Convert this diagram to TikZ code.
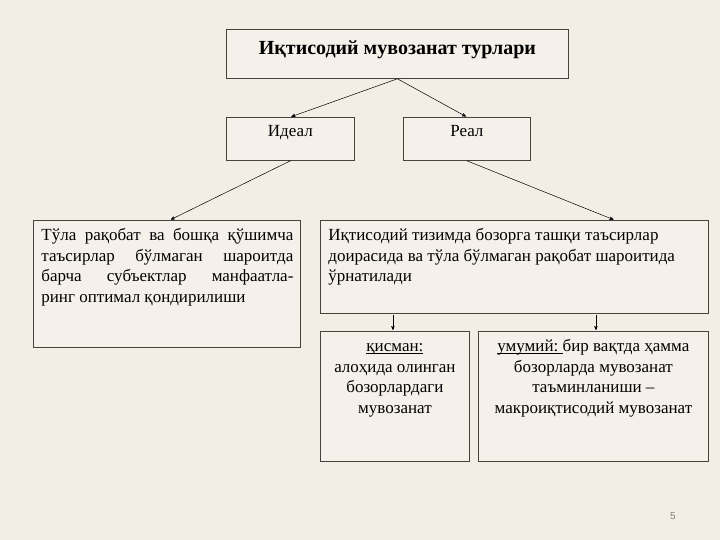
\documentclass[tikz,border=0pt]{standalone}
\usepackage{fontspec}
\setmainfont{Liberation Serif}
\setsansfont{Liberation Sans}
\usepackage{tikz}
\usetikzlibrary{arrows,positioning,calc}

\definecolor{bgcol}{RGB}{243,238,229}
\definecolor{boxfill}{RGB}{245,241,234}
\definecolor{boxline}{RGB}{70,66,62}

\newcommand\ulword[1]{\leavevmode\setbox0\hbox{#1}\rlap{\rule[-2.5pt]{\wd0}{0.7pt}}\box0}

\begin{document}
\begin{tikzpicture}[x=1pt, y=-1pt, >=stealth', thick, font=\fontsize{17}{20.7}\selectfont]
				\tikzstyle{box}=[draw=boxline, fill=boxfill, line width=0.8pt, inner sep=0pt, anchor=north west]
				\tikzstyle{link}=[draw=black, line width=0.5pt, ->, shorten >=1pt]

				\useasboundingbox (0,0) rectangle (720,540);
				\fill[bgcol] (0,0) rectangle (720,540);

				%SARLAVHA
				\node[box]	(title)	at (226,29)	{\parbox[c][49pt][t]{342pt}{\fontsize{20}{24}\selectfont\vspace*{8pt}\centering\strut\bfseries Иқтисодий мувозанат турлари}};

				%TURLAR
				\node[box]	(ideal)	at (226,117)	{\parbox[c][43pt][t]{128pt}{\vspace*{4.5pt}\centering\strut Идеал}};
				\node[box]	(real)	at (403,117)	{\parbox[c][43pt][t]{127pt}{\vspace*{4.5pt}\centering\strut Реал}};

				%TAVSIF
				\node[box]	(lbox)	at (33,220)	{\parbox[c][127pt][t]{267pt}{\vspace*{5.5pt}\leftskip=8pt\rightskip=7pt\parfillskip=0pt plus 1fil\strut Тўла рақобат ва бошқа қўшимча\linebreak таъсирлар бўлмаган шароитда\linebreak барча субъектлар манфаатла-\linebreak ринг оптимал қондирилиши}};
				\node[box]	(rbox)	at (320,220)	{\parbox[c][93pt][t]{388pt}{\vspace*{5.5pt}\raggedright\leftskip=8pt\strut Иқтисодий тизимда бозорга ташқи таъсирлар\\ доирасида ва тўла бўлмаган рақобат шароитида\\ ўрнатилади}};
				\node[box]	(part)	at (320,331)	{\parbox[c][130pt][t]{149pt}{\vspace*{5.5pt}\centering\strut\ulword{қисман:}\\ алоҳида олинган\\ бозорлардаги\\ мувозанат}};
				\node[box]	(gen)	at (478,331)	{\parbox[c][130pt][t]{230pt}{\vspace*{5.5pt}\centering\strut\ulword{умумий:\ }бир вақтда ҳамма\\ бозорларда мувозанат\\ таъминланиши –\\ макроиқтисодий мувозанат}};

				%SAHIFA
				\node[text=gray]	(pnum)	at (673,516)	{\sffamily\fontsize{10}{12}\selectfont 5};

				%BOGLANISHLAR
				\path
					(title.south)	edge[link]	(ideal.north)
					(title.south)	edge[link]	(real.north)
					(ideal.south)	edge[link]	([xshift=3pt]lbox.north)
					(real.south)	edge[link]	([xshift=100pt]rbox.north)
					($(part.north |- rbox.south)+(-2,1)$)	edge[link]	([xshift=-2pt]part.north)
					($(gen.north |- rbox.south)+(2.5,1)$)	edge[link]	([xshift=2.5pt]gen.north);
\end{tikzpicture}
\end{document}
